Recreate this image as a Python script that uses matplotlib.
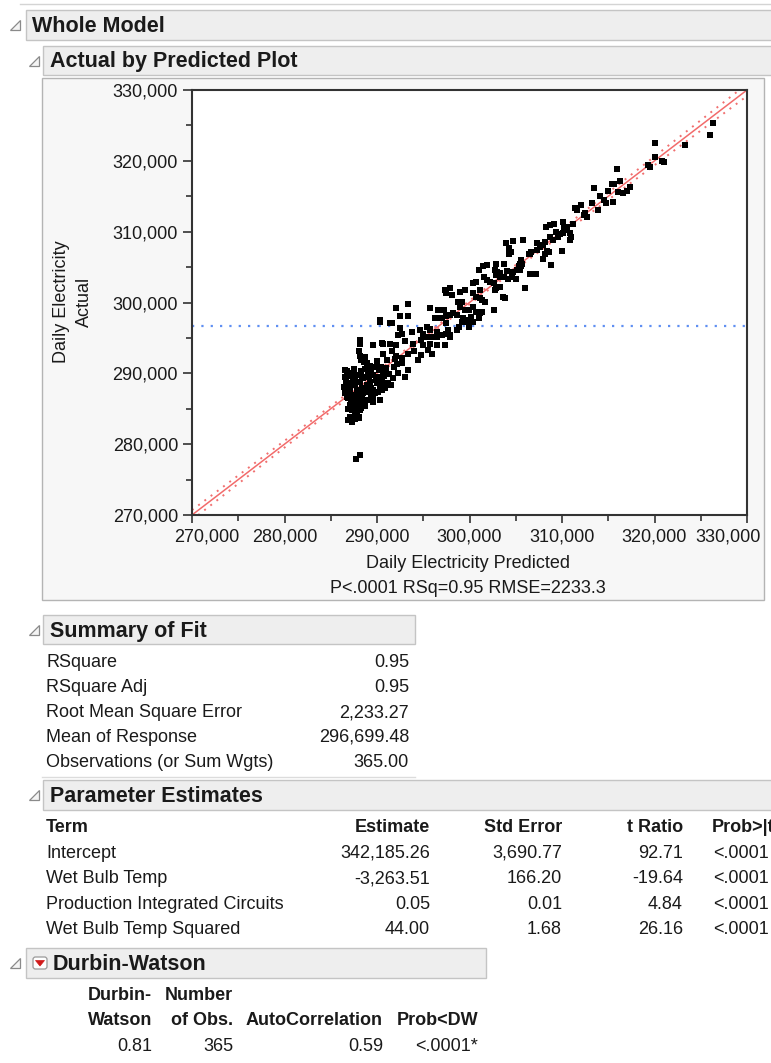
import numpy as np
import matplotlib
matplotlib.use("Agg")
import matplotlib.pyplot as plt
from matplotlib.patches import Rectangle, Polygon, FancyBboxPatch
from matplotlib.ticker import MultipleLocator, FuncFormatter
from matplotlib.transforms import ScaledTranslation

plt.rcParams['font.family'] = ['Liberation Sans', 'DejaVu Sans']

# ---------------- data (thousands of kWh) ----------------
predicted_k = [
    326.3, 326.0, 323.3, 320.1, 320.1, 320.8, 321.0, 319.3, 319.5,
    315.9, 316.3, 315.4, 315.6, 315.0, 316.1, 316.6, 317.0, 317.4, 313.5,
    314.1, 314.5, 314.8, 315.5, 313.2, 313.9, 312.0, 311.4, 311.6,
    312.5, 312.7, 312.4, 311.2, 310.1, 310.5, 310.2, 308.3, 308.7, 309.1,
    309.4, 309.8, 310.1, 310.4, 309.6, 310.9, 311.0, 310.9, 308.7, 309.0,
    310.0, 308.2, 307.9, 307.6, 307.3, 308.4, 308.6, 308.2, 307.9, 308.8,
    307.3, 306.7, 306.5, 306.4, 305.6, 305.7, 305.6, 305.5,
    303.9, 304.7, 305.8, 304.3, 304.5, 304.3, 307.2, 306.5, 306.0,
    302.9, 303.7, 302.8, 303.0, 303.3, 304.0, 304.7, 305.1, 305.4, 305.5,
    301.9, 301.5, 301.0, 300.7, 300.4, 301.6, 301.9, 302.2, 302.6,
    302.9, 303.3, 303.7, 304.2, 304.6, 305.0,
    299.5, 301.1, 302.9, 303.3, 302.8,
    300.4, 300.7, 301.1, 301.3, 301.7, 303.6, 303.8,
    302.6, 299.9, 299.2, 299.5, 300.4, 300.7, 301.1, 300.2, 299.7, 299.2,
    295.7, 296.6, 297.2, 297.4, 297.9, 298.1, 297.5,
    296.3, 296.6, 297.0, 297.5, 297.9, 298.2, 298.6,
    295.4, 295.7, 295.0, 294.8, 295.4, 295.9, 296.5, 296.8, 297.5, 297.9, 298.6,
    299.0, 299.0, 299.5, 298.8,
    299.3, 299.7, 300.2, 300.4, 301.0, 301.3, 298.9, 299.9,
    290.3, 291.6, 292.5, 292.3, 292.7,
    293.8, 294.6, 295.7, 296.5, 297.0, 297.5, 297.7, 297.9,
    288.2, 288.2, 289.6, 290.7, 291.4, 292.1, 293.0, 293.9, 295.0, 295.7, 296.5, 297.4,
    288.0, 288.2, 288.3, 288.9, 290.0, 290.7, 291.1, 291.6, 292.0, 292.7,
    293.3, 294.0, 294.4, 294.8, 295.5, 295.9, 292.7, 293.4, 292.3, 293.0,
    286.5, 286.9, 287.3, 287.4, 286.7, 286.4, 287.1, 287.6, 288.2, 288.5,
    289.1, 289.6, 290.1, 290.5, 290.7, 290.3, 290.0, 289.2, 288.9, 288.4,
    287.8, 287.1, 286.5, 286.9, 287.4, 288.0, 288.5, 289.1, 289.6, 290.1,
    289.4, 288.9, 288.2, 287.6, 287.1, 287.8, 287.3, 287.6, 287.1, 287.4,
    288.0, 286.9, 287.1, 288.2, 288.0, 288.5,
    287.7, 288.2,
    290.3, 292.1, 293.4, 292.5, 293.4, 295.7, 296.6, 291.4, 288.2, 288.1,
    288.7, 289.6, 290.5, 290.3, 289.6,
    286.7, 287.0, 287.3, 287.6, 287.9, 288.3, 288.7, 289.0, 289.4, 289.8,
    290.2, 290.6, 291.0, 291.3, 291.7, 291.2, 290.9, 291.5, 290.5, 289.8,
    289.3, 288.7, 288.1, 287.5, 286.8, 287.2, 287.9, 288.4, 289.1, 289.6,
    288.7, 288.3, 287.6, 287.3, 286.9, 287.8, 288.0, 287.3, 287.6, 288.4,
    289.9, 290.8, 291.8, 292.2, 291.9, 290.4, 289.2, 288.6, 287.5, 286.8,
    286.5,
]
actual_k = [
    325.3, 323.6, 322.2, 322.5, 320.6, 320.0, 319.9, 319.4, 319.2,
    318.8, 317.2, 316.7, 316.7, 315.7, 315.6, 315.5, 315.8, 316.3, 316.1,
    315.0, 314.5, 314.1, 314.2, 314.0, 313.0, 313.8, 313.3, 313.1,
    312.6, 312.1, 312.4, 311.1, 311.3, 310.7, 310.5, 310.7, 310.9, 311.1,
    310.0, 309.7, 309.8, 310.2, 309.3, 309.8, 309.3, 308.8, 309.3, 308.8,
    307.3, 308.6, 308.1, 307.9, 308.4, 307.3, 307.2, 306.9, 306.2, 305.3,
    307.4, 307.2, 306.9, 306.8, 306.0, 305.5, 305.2, 304.6,
    308.4, 308.7, 308.8, 307.7, 307.2, 306.9, 304.0, 304.0, 302.1,
    305.5, 305.5, 304.6, 304.3, 304.2, 304.5, 304.3, 304.6, 305.1, 305.5,
    305.3, 305.1, 304.6, 302.9, 302.7, 303.6, 303.2, 302.9, 302.7,
    303.9, 303.6, 303.6, 303.3, 303.6, 303.3,
    301.7, 301.7, 302.0, 302.2, 301.8,
    301.3, 300.8, 300.6, 300.4, 300.1, 300.8, 300.6,
    298.9, 298.9, 300.1, 298.9, 299.4, 298.7, 298.5, 297.8, 297.5, 297.3,
    299.2, 298.9, 299.0, 301.8, 302.0, 301.1, 301.3,
    297.8, 297.8, 297.8, 298.1, 298.2, 298.5, 298.2,
    296.6, 296.1, 295.6, 294.7, 295.2, 295.2, 295.2, 295.4, 295.6, 295.2, 296.1,
    299.4, 301.5, 301.8, 300.1,
    297.8, 297.3, 297.9, 297.3, 297.8, 298.7, 296.6, 296.6,
    297.3, 297.1, 296.4, 295.4, 295.6,
    295.9, 296.1, 296.2, 295.9, 295.4, 297.1, 296.1, 295.4,
    294.7, 294.2, 294.0, 294.2, 294.2, 294.0, 294.5, 294.2, 294.0, 294.2, 294.0, 294.0,
    293.1, 292.4, 291.9, 291.4, 291.7, 292.8, 291.9, 293.1, 292.4, 292.1,
    292.8, 293.1, 291.9, 292.6, 293.3, 292.8, 291.4, 290.5, 290.0, 289.5,
    289.5, 290.0, 290.0, 289.3, 288.6, 288.1, 288.1, 288.4, 288.8, 289.3,
    289.5, 289.8, 289.5, 289.1, 288.6, 288.1, 288.6, 288.8, 288.4, 287.9,
    287.7, 287.4, 287.2, 286.5, 286.7, 286.9, 287.2, 287.4, 287.7, 287.4,
    286.7, 286.2, 286.0, 285.8, 285.5, 285.1, 284.8, 284.4, 283.9, 283.7,
    283.9, 283.4, 285.1, 284.8, 285.5, 285.8,
    277.9, 278.5,
    297.5, 299.2, 299.8, 298.1, 298.1, 299.2, 298.9, 297.1, 294.6, 293.1,
    292.3, 294.0, 294.3, 286.3, 286.7,
    289.0, 289.6, 288.7, 289.0, 289.8, 290.3, 290.6, 290.1, 290.4, 290.9,
    290.5, 290.2, 290.8, 289.9, 289.4, 288.7, 287.9, 288.3, 287.6, 287.2,
    287.9, 287.6, 287.3, 287.0, 286.7, 286.2, 286.4, 286.6, 286.3, 285.9,
    285.4, 285.1, 284.9, 285.5, 285.0, 284.4, 283.7, 283.2, 283.5, 289.5,
    289.1, 289.6, 290.9, 291.3, 292.0, 290.9, 291.0, 291.6, 290.6, 290.4,
    290.5,
]

x_ticks = [270000, 280000, 290000, 300000, 310000, 320000, 330000]
y_ticks = [270000, 280000, 290000, 300000, 310000, 320000, 330000]

# summary statistics
n_obs = 365
rsq = 0.95
rmse = 2233.27
mean_response = 296699.48
p_text = "P<.0001 RSq=0.95 RMSE=2233.3"

summary_labels = ["RSquare", "RSquare Adj", "Root Mean Square Error",
                  "Mean of Response", "Observations (or Sum Wgts)"]
summary_values = ["0.95", "0.95", "2,233.27", "296,699.48", "365.00"]

param_terms = ["Intercept", "Wet Bulb Temp", "Production Integrated Circuits",
               "Wet Bulb Temp Squared"]
param_estimate = ["342,185.26", "-3,263.51", "0.05", "44.00"]
param_stderr = ["3,690.77", "166.20", "0.01", "1.68"]
param_tratio = ["92.71", "-19.64", "4.84", "26.16"]
param_prob = ["<.0001", "<.0001", "<.0001", "<.0001"]

dw_value = "0.81"
dw_nobs = "365"
dw_autocorr = "0.59"
dw_prob = "<.0001*"

# ---------------- figure & page canvas ----------------
W, H = 771, 1063
fig = plt.figure(figsize=(W / 100, H / 100), dpi=100)
fig.patch.set_facecolor("white")
page = fig.add_axes([0, 0, 1, 1])
page.set_xlim(0, W)
page.set_ylim(H, 0)
page.axis("off")

HDR_FILL = "#eeeeee"
HDR_EDGE = "#c4c4c4"
TXT = "#1a1a1a"
FS_HDR = 15.5
FS = 13


def disclosure(x, yc):
    tri = Polygon([(x, yc + 5), (x + 10, yc + 5), (x + 10, yc - 5)],
                  closed=True, facecolor="#f4f4f4", edgecolor="#8a8a8a", lw=0.9)
    page.add_patch(tri)


def header(x0, x1, y0, y1, title, tri_x, text_x):
    page.add_patch(Rectangle((x0, y0), x1 - x0, y1 - y0, facecolor=HDR_FILL,
                             edgecolor=HDR_EDGE, lw=1.0))
    disclosure(tri_x, (y0 + y1) / 2)
    page.text(text_x, (y0 + y1) / 2 + 7, title, fontsize=FS_HDR, fontweight="bold",
              color=TXT, va="baseline", ha="left")


# top rule
page.plot([20, W], [4, 4], color="#d4d4d4", lw=1)

header(26, W + 5, 10, 40, "Whole Model", 10, 32)
header(43, W + 5, 46, 75, "Actual by Predicted Plot", 29, 50)

# plot frame
page.add_patch(Rectangle((42, 78), 722, 522, facecolor="#f7f7f7",
                         edgecolor="#b4b4b4", lw=1.0))

# ---------------- scatter plot ----------------
ax_l, ax_r, ax_t, ax_b = 192, 747, 90, 515
ax = fig.add_axes([ax_l / W, 1 - ax_b / H, (ax_r - ax_l) / W, (ax_b - ax_t) / H])
ax.set_facecolor("white")

pred = np.array(predicted_k) * 1000
act = np.array(actual_k) * 1000

xs = np.linspace(x_ticks[0], x_ticks[-1], 400)
sxx = n_obs * np.var(pred)
t_crit = 1.967
half = t_crit * rmse * np.sqrt(1 / n_obs + (xs - mean_response) ** 2 / sxx)

ax.axhline(mean_response, color="#5f8ff2", lw=1.6, ls=(0, (1, 3.2)), zorder=1)
ax.plot(xs, xs, color="#f26b6b", lw=1.1, zorder=2)
ax.plot(xs, xs + half, color="#f07070", lw=1.4, ls=(0, (1, 3)), zorder=2)
ax.plot(xs, xs - half, color="#f07070", lw=1.4, ls=(0, (1, 3)), zorder=2)
ax.plot(pred, act, ls="none", marker="s", markersize=3.9, color="black",
        markeredgewidth=0, zorder=3)

ax.set_xlim(x_ticks[0], x_ticks[-1])
ax.set_ylim(y_ticks[0], y_ticks[-1])
ax.set_xticks(x_ticks)
ax.set_yticks(y_ticks)
ax.xaxis.set_minor_locator(MultipleLocator(5000))
ax.yaxis.set_minor_locator(MultipleLocator(5000))
fmt = FuncFormatter(lambda v, p: f"{v:,.0f}")
ax.xaxis.set_major_formatter(fmt)
ax.yaxis.set_major_formatter(fmt)
ax.tick_params(which="major", direction="out", length=6.5, width=1.2,
               color="#333333", labelsize=13, labelcolor=TXT, pad=3.5)
ax.tick_params(which="minor", direction="out", length=4.5, width=1.2, color="#333333")
ax.tick_params(axis="x", which="major", length=6, pad=4)
ax.tick_params(axis="x", which="minor", length=4)
for s in ax.spines.values():
    s.set_linewidth(1.5)
    s.set_color("#333333")

# keep the end labels of the x axis inside the frame
xt = ax.xaxis.get_major_ticks()
xt[0].label1.set_transform(xt[0].label1.get_transform()
                           + ScaledTranslation(15 / 100, 0, fig.dpi_scale_trans))
xt[-1].label1.set_transform(xt[-1].label1.get_transform()
                            + ScaledTranslation(-19 / 100, 0, fig.dpi_scale_trans))

page.text(468, 568, "Daily Electricity Predicted", fontsize=FS, color=TXT,
          ha="center", va="baseline")
page.text(468, 593, p_text, fontsize=FS, color=TXT, ha="center", va="baseline")
page.text(61, 302, "Daily Electricity", fontsize=FS, color=TXT, ha="center",
          va="center", rotation=90)
page.text(84, 302, "Actual", fontsize=FS, color=TXT, ha="center",
          va="center", rotation=90)

# ---------------- Summary of Fit ----------------
header(43, 415, 615, 644, "Summary of Fit", 29, 50)
for i, (lab, val) in enumerate(zip(summary_labels, summary_values)):
    yb = 667 + 25 * i
    page.text(46, yb, lab, fontsize=FS, color=TXT, ha="left", va="baseline")
    page.text(409, yb, val, fontsize=FS, color=TXT, ha="right", va="baseline")
page.plot([42, 415], [777, 777], color="#dcdcdc", lw=1)

# ---------------- Parameter Estimates ----------------
header(43, W + 5, 780, 810, "Parameter Estimates", 29, 50)
col_right = [430, 562, 683]
heads = ["Estimate", "Std Error", "t Ratio"]
page.text(46, 832, "Term", fontsize=FS, fontweight="bold", color=TXT,
          ha="left", va="baseline")
for xr, hname in zip(col_right, heads):
    page.text(xr, 832, hname, fontsize=FS, fontweight="bold", color=TXT,
              ha="right", va="baseline")
page.text(712, 832, "Prob>|t|", fontsize=FS, fontweight="bold", color=TXT,
          ha="left", va="baseline")
for i in range(len(param_terms)):
    yb = 858 + 25.3 * i
    page.text(46, yb, param_terms[i], fontsize=FS, color=TXT, ha="left", va="baseline")
    for xr, col in zip(col_right, (param_estimate, param_stderr, param_tratio)):
        page.text(xr, yb, col[i], fontsize=FS, color=TXT, ha="right", va="baseline")
    page.text(713, yb, param_prob[i], fontsize=FS, color=TXT, ha="left", va="baseline")

# ---------------- Durbin-Watson ----------------
header(26, 486, 948, 978, "", 10, 53)
page.text(53, 970, "Durbin-Watson", fontsize=FS_HDR, fontweight="bold", color=TXT,
          ha="left", va="baseline")
page.add_patch(FancyBboxPatch((33, 957), 14, 12, boxstyle="round,pad=0,rounding_size=2.5",
                              facecolor="white", edgecolor="#9a9a9a", lw=0.9))
page.add_patch(Polygon([(35.5, 960.5), (44.5, 960.5), (40, 966)], closed=True,
                       facecolor="#d11a1a", edgecolor="#d11a1a", lw=0.5))

page.text(152, 1000, "Durbin-", fontsize=FS, fontweight="bold", color=TXT,
          ha="right", va="baseline")
page.text(233, 1000, "Number", fontsize=FS, fontweight="bold", color=TXT,
          ha="right", va="baseline")
for xr, hname in zip([152, 233, 383, 478],
                     ["Watson", "of Obs.", "AutoCorrelation", "Prob<DW"]):
    page.text(xr, 1025, hname, fontsize=FS, fontweight="bold", color=TXT,
              ha="right", va="baseline")
for xr, v in zip([152, 233, 383, 478], [dw_value, dw_nobs, dw_autocorr, dw_prob]):
    page.text(xr, 1051, v, fontsize=FS, color=TXT, ha="right", va="baseline")

fig.savefig("out.png", dpi=100, facecolor="white")
